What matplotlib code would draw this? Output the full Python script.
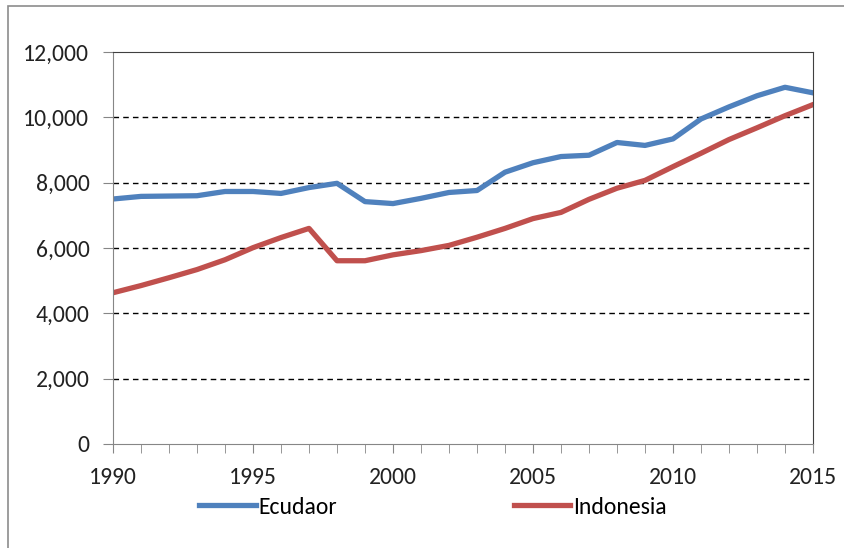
import matplotlib.pyplot as plt
from matplotlib.patches import Rectangle
from matplotlib.ticker import FuncFormatter, MultipleLocator

years = list(range(1990, 2016))
ecuador = [7500, 7580, 7590, 7600, 7730, 7730, 7670, 7850, 7980, 7420,
           7360, 7520, 7700, 7760, 8320, 8610, 8800, 8840, 9230, 9140,
           9340, 9950, 10320, 10660, 10920, 10750]
indonesia = [4630, 4850, 5090, 5340, 5640, 6010, 6320, 6600, 5610, 5610,
             5790, 5920, 6080, 6330, 6600, 6900, 7090, 7490, 7830, 8070,
             8490, 8900, 9320, 9680, 10050, 10390]

plt.rcParams['font.family'] = ['Carlito', 'Lato', 'DejaVu Sans']

fig = plt.figure(figsize=(8.45, 5.48), dpi=100)
ax = fig.add_axes([113 / 845, 1 - 444 / 548, 700 / 845, 392 / 548])

ax.plot(years, ecuador, color='#4F81BD', lw=3.8, label='Ecudaor')
ax.plot(years, indonesia, color='#C0504D', lw=3.8, label='Indonesia')

ax.set_xlim(1990, 2015)
ax.set_ylim(0, 12000)
ax.set_xticks(range(1990, 2016, 5))
ax.xaxis.set_minor_locator(MultipleLocator(1))
ax.set_yticks(range(0, 12001, 2000))
ax.yaxis.set_major_formatter(FuncFormatter(lambda v, p: f'{int(v):,}'))

# dashed gridlines, no line at the top edge
for y in range(2000, 12000, 2000):
    ax.axhline(y, color='black', lw=1, ls=(0, (4, 3)), zorder=0)

ax.spines['left'].set_color('#868686')
ax.spines['bottom'].set_color('#868686')
ax.spines['top'].set_color('#404040')
ax.spines['right'].set_color('#404040')
ax.tick_params(axis='both', which='both', colors='#868686', labelcolor='#222222',
               labelsize=17, direction='out')
ax.tick_params(axis='x', which='both', length=6.5)
ax.tick_params(axis='x', which='major', pad=10)
ax.tick_params(axis='y', length=7, pad=10)

fig.legend(loc='center', bbox_to_anchor=(0.512, 1 - 507 / 548), ncol=2, frameon=False,
           fontsize=17, handlelength=2.4, handletextpad=0.1, columnspacing=7.5)

fig.patches.append(Rectangle((8 / 845, -0.1), 1.2, 1 - 6 / 548 + 0.1,
                             transform=fig.transFigure, fill=False,
                             edgecolor='#8c8c8c', lw=1.2))

fig.savefig('out.png', dpi=100)
